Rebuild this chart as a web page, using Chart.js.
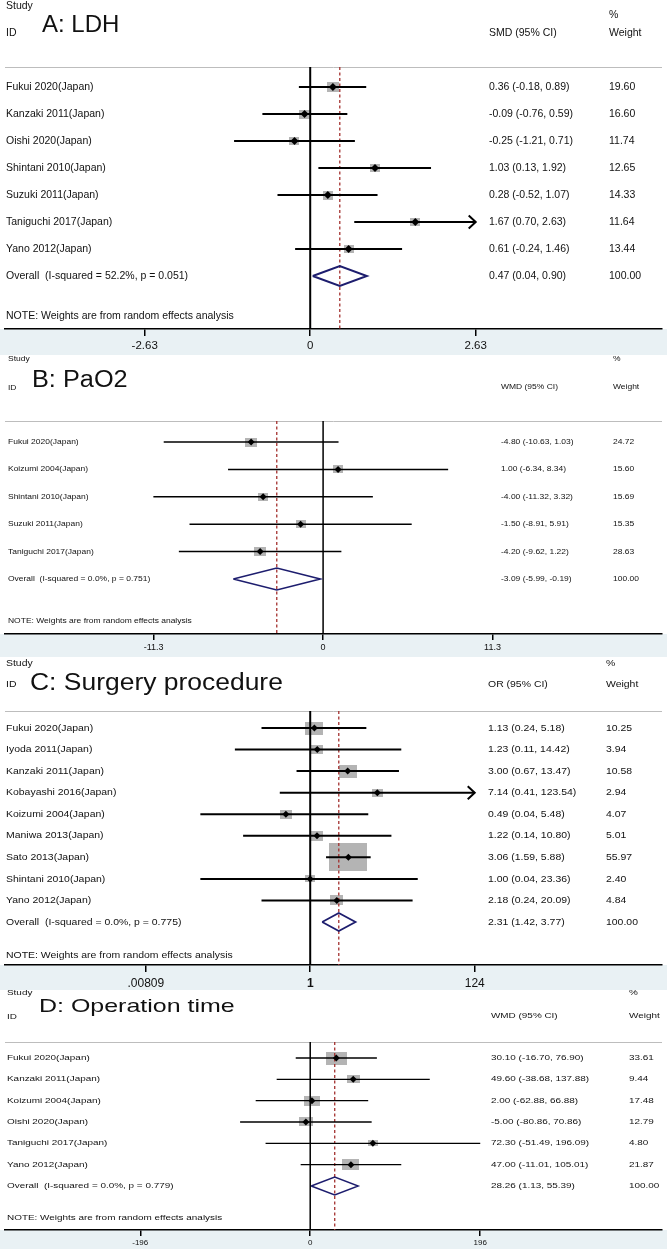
<!DOCTYPE html>
<html>
<head>
<meta charset="utf-8">
<script src="https://cdn.jsdelivr.net/npm/chart.js@4.4.0/dist/chart.umd.min.js"></script>
<style>
  body { margin: 0; background: #fff; }
  #wrap { position: relative; width: 667px; height: 1249px; }
  #wrap canvas { position: absolute; left: 0; }
</style>
</head>
<body>
<div id="wrap">
  <canvas id="ldh" width="667" height="355" style="top:0"></canvas>
  <canvas id="pao2" width="667" height="302" style="top:355px"></canvas>
  <canvas id="surgery" width="667" height="333" style="top:657px"></canvas>
  <canvas id="optime" width="667" height="259" style="top:990px"></canvas>
</div>
<script>
const FONT = '"Liberation Sans", Arial, Helvetica, sans-serif';

// A: LDH (SMD)
const ldhStudies = ['Fukui 2020(Japan)', 'Kanzaki 2011(Japan)', 'Oishi 2020(Japan)', 'Shintani 2010(Japan)',
  'Suzuki 2011(Japan)', 'Taniguchi 2017(Japan)', 'Yano 2012(Japan)'];
const ldhEst = [0.36, -0.09, -0.25, 1.03, 0.28, 1.67, 0.61];
const ldhLow = [-0.18, -0.76, -1.21, 0.13, -0.52, 0.70, -0.24];
const ldhHigh = [0.89, 0.59, 0.71, 1.92, 1.07, 2.63, 1.46];
const ldhWeight = [19.60, 16.60, 11.74, 12.65, 14.33, 11.64, 13.44];
const ldhOverall = [0.47, 0.04, 0.90];
const ldhHet = ['52.2%', '0.051'];
const ldhTicks = [-2.63, 0, 2.63];
const ldhTickLabels = ['-2.63', '0', '2.63'];

// B: PaO2 (WMD)
const paoStudies = ['Fukui 2020(Japan)', 'Koizumi 2004(Japan)', 'Shintani 2010(Japan)', 'Suzuki 2011(Japan)',
  'Taniguchi 2017(Japan)'];
const paoEst = [-4.80, 1.00, -4.00, -1.50, -4.20];
const paoLow = [-10.63, -6.34, -11.32, -8.91, -9.62];
const paoHigh = [1.03, 8.34, 3.32, 5.91, 1.22];
const paoWeight = [24.72, 15.60, 15.69, 15.35, 28.63];
const paoOverall = [-3.09, -5.99, -0.19];
const paoHet = ['0.0%', '0.751'];
const paoTicks = [-11.3, 0, 11.3];
const paoTickLabels = ['-11.3', '0', '11.3'];

// C: Surgery procedure (OR)
const surgStudies = ['Fukui 2020(Japan)', 'Iyoda 2011(Japan)', 'Kanzaki 2011(Japan)', 'Kobayashi 2016(Japan)',
  'Koizumi 2004(Japan)', 'Maniwa 2013(Japan)', 'Sato 2013(Japan)', 'Shintani 2010(Japan)', 'Yano 2012(Japan)'];
const surgEst = [1.13, 1.23, 3.00, 7.14, 0.49, 1.22, 3.06, 1.00, 2.18];
const surgLow = [0.24, 0.11, 0.67, 0.41, 0.04, 0.14, 1.59, 0.04, 0.24];
const surgHigh = [5.18, 14.42, 13.47, 123.54, 5.48, 10.80, 5.88, 23.36, 20.09];
const surgWeight = [10.25, 3.94, 10.58, 2.94, 4.07, 5.01, 55.97, 2.40, 4.84];
const surgOverall = [2.31, 1.42, 3.77];
const surgHet = ['0.0%', '0.775'];
const surgTicks = [0.00809, 1, 124];
const surgTickLabels = ['.00809', '1', '124'];

// D: Operation time (WMD)
const opStudies = ['Fukui 2020(Japan)', 'Kanzaki 2011(Japan)', 'Koizumi 2004(Japan)', 'Oishi 2020(Japan)',
  'Taniguchi 2017(Japan)', 'Yano 2012(Japan)'];
const opEst = [30.10, 49.60, 2.00, -5.00, 72.30, 47.00];
const opLow = [-16.70, -38.68, -62.88, -80.86, -51.49, -11.01];
const opHigh = [76.90, 137.88, 66.88, 70.86, 196.09, 105.01];
const opWeight = [33.61, 9.44, 17.48, 12.79, 4.80, 21.87];
const opOverall = [28.26, 1.13, 55.39];
const opHet = ['0.0%', '0.779'];
const opTicks = [-196, 0, 196];
const opTickLabels = ['-196', '0', '196'];

const NOTE = 'NOTE: Weights are from random effects analysis';

const panels = [
  { id: 'ldh', title: 'A: LDH', measure: 'SMD (95% CI)',
    studies: ldhStudies, est: ldhEst, low: ldhLow, high: ldhHigh, weight: ldhWeight,
    overall: ldhOverall, het: ldhHet, ticks: ldhTicks, tickLabels: ldhTickLabels,
    log: false, nullValue: 0, clip: 2.63,
    h: 355, top: 67, axis: 329, row0: 87, rowGap: 27, zeroX: 310, ppu: 63.5,
    studyY: 6, idY: 33, titleX: 42, titleY: 25, titleSize: 24, titleStretch: 1.0,
    pctY: 15, hdrY: 33, ciX: 489, wX: 609, labelX: 6, noteY: 316,
    font: 10.5, stretch: 1.0, tickFont: 11.5, tickLen: 7, tickPad: 3,
    boxBase: 3, boxScale: 1.5, boxStretch: 1.2, dot: 4, ciW: 2, nullW: 2, diaW: 2, diaH: 0.37 },
  { id: 'pao2', title: 'B: PaO2', measure: 'WMD (95% CI)',
    studies: paoStudies, est: paoEst, low: paoLow, high: paoHigh, weight: paoWeight,
    overall: paoOverall, het: paoHet, ticks: paoTicks, tickLabels: paoTickLabels,
    log: false, nullValue: 0, clip: null,
    h: 302, top: 66, axis: 279, row0: 87, rowGap: 27.4, zeroX: 323, ppu: 15.13,
    studyY: 4, idY: 33, titleX: 32, titleY: 26, titleSize: 23, titleStretch: 1.1,
    pctY: 4, hdrY: 32, ciX: 501, wX: 613, labelX: 8, noteY: 266,
    font: 7.5, stretch: 1.13, tickFont: 9, tickLen: 6, tickPad: 2,
    boxBase: 2.5, boxScale: 1.3, boxStretch: 1.3, dot: 3.5, ciW: 1.5, nullW: 1.5, diaW: 1.6, diaH: 0.4 },
  { id: 'surgery', title: 'C: Surgery procedure', measure: 'OR (95% CI)',
    studies: surgStudies, est: surgEst, low: surgLow, high: surgHigh, weight: surgWeight,
    overall: surgOverall, het: surgHet, ticks: surgTicks, tickLabels: surgTickLabels,
    log: true, nullValue: 1, clip: 124,
    h: 333, top: 54, axis: 308, row0: 71, rowGap: 21.56, zeroX: 310, ppu: 79.3,
    studyY: 6, idY: 27, titleX: 30, titleY: 26.5, titleSize: 23, titleStretch: 1.15,
    pctY: 6, hdrY: 27, ciX: 488, wX: 606, labelX: 6, noteY: 298,
    font: 9.5, stretch: 1.1, tickFont: 12, tickLen: 7, tickPad: 4,
    boxBase: 2, boxScale: 3.5, boxStretch: 1.35, dot: 3.5, ciW: 2, nullW: 2, diaW: 1.8, diaH: 0.42 },
  { id: 'optime', title: 'D: Operation time', measure: 'WMD (95% CI)',
    studies: opStudies, est: opEst, low: opLow, high: opHigh, weight: opWeight,
    overall: opOverall, het: opHet, ticks: opTicks, tickLabels: opTickLabels,
    log: false, nullValue: 0, clip: null,
    h: 259, top: 52, axis: 240, row0: 68, rowGap: 21.33, zeroX: 310, ppu: 0.875,
    studyY: 3, idY: 27, titleX: 39, titleY: 17, titleSize: 18.5, titleStretch: 1.35,
    pctY: 3, hdrY: 26, ciX: 491, wX: 629, labelX: 7, noteY: 228,
    font: 7.2, stretch: 1.38, tickFont: 8, tickLen: 6, tickPad: 2,
    boxBase: 2, boxScale: 1.9, boxStretch: 1.6, dot: 3.5, ciW: 1.3, nullW: 1.5, diaW: 1.4, diaH: 0.42 }
];

const AREA_L = 2, AREA_R = 665;

function fmt(v) { return v.toFixed(2); }

function text(ctx, str, x, y, size, stretch, bold) {
  ctx.save();
  ctx.translate(x, y);
  ctx.scale(stretch, 1);
  ctx.font = (bold ? 'bold ' : '') + size + 'px ' + FONT;
  ctx.fillStyle = '#111';
  ctx.textAlign = 'left';
  ctx.textBaseline = 'middle';
  ctx.fillText(str, 0, 0);
  ctx.restore();
}

function boxImage(p, w) {
  const hgt = p.boxBase + p.boxScale * Math.sqrt(w);
  const c = document.createElement('canvas');
  c.width = Math.max(2, Math.round(hgt * p.boxStretch));
  c.height = Math.max(2, Math.round(hgt));
  const g = c.getContext('2d');
  g.fillStyle = '#b4b4b4';
  g.fillRect(0, 0, c.width, c.height);
  return c;
}

function isClipped(p, hi) { return p.clip !== null && hi >= p.clip * 0.99; }

function makeChart(p) {
  const n = p.studies.length;
  const yMin = (p.top - p.row0) / p.rowGap;
  const yMax = (p.axis - p.row0) / p.rowGap;
  let xMin, xMax;
  if (p.log) {
    xMin = Math.pow(10, (AREA_L - p.zeroX) / p.ppu);
    xMax = Math.pow(10, (AREA_R - p.zeroX) / p.ppu);
  } else {
    xMin = p.nullValue + (AREA_L - p.zeroX) / p.ppu;
    xMax = p.nullValue + (AREA_R - p.zeroX) / p.ppu;
  }

  const datasets = [];
  datasets.push({
    data: p.est.map((v, i) => ({ x: v, y: i })),
    pointStyle: p.weight.map(w => boxImage(p, w)),
    pointRadius: 3, order: 6
  });
  datasets.push({
    data: [{ x: p.nullValue, y: yMin }, { x: p.nullValue, y: yMax }],
    showLine: true, borderColor: '#000', borderWidth: p.nullW, pointRadius: 0, order: 5
  });
  datasets.push({
    data: [{ x: p.overall[0], y: yMin }, { x: p.overall[0], y: yMax }],
    showLine: true, borderColor: '#a3302e', borderWidth: 1.3, borderDash: [3, 2.5], pointRadius: 0, order: 4
  });
  p.low.forEach((lo, i) => {
    const hi = isClipped(p, p.high[i]) ? p.clip : p.high[i];
    datasets.push({
      data: [{ x: lo, y: i }, { x: hi, y: i }],
      showLine: true, borderColor: '#000', borderWidth: p.ciW, pointRadius: 0, order: 3
    });
  });
  const [oe, ol, oh] = p.overall;
  datasets.push({
    data: [{ x: ol, y: n }, { x: oe, y: n - p.diaH }, { x: oh, y: n }, { x: oe, y: n + p.diaH }, { x: ol, y: n }],
    showLine: true, borderColor: '#1d1d6e', borderWidth: p.diaW, borderJoinStyle: 'miter',
    pointRadius: 0, order: 2
  });
  datasets.push({
    data: p.est.map((v, i) => ({ x: v, y: i })),
    pointStyle: 'rectRot', pointRadius: p.dot, backgroundColor: '#000', borderWidth: 0, order: 1
  });

  const decor = {
    id: 'forestDecor',
    beforeDraw(chart) {
      const { ctx, chartArea } = chart;
      ctx.save();
      ctx.fillStyle = '#e9f1f4';
      ctx.fillRect(0, chartArea.bottom, chart.width, chart.height - chartArea.bottom);
      ctx.strokeStyle = '#bdbdbd';
      ctx.lineWidth = 1;
      ctx.beginPath();
      ctx.moveTo(chartArea.left, chartArea.top + 0.5);
      ctx.lineTo(chartArea.right, chartArea.top + 0.5);
      ctx.stroke();
      ctx.restore();
    },
    afterDatasetsDraw(chart) {
      const { ctx } = chart;
      const xs = chart.scales.x, ys = chart.scales.y;
      ctx.save();
      ctx.strokeStyle = '#000';
      ctx.lineWidth = p.ciW;
      p.high.forEach((hi, i) => {
        if (!isClipped(p, hi)) return;
        const px = xs.getPixelForValue(p.clip), py = ys.getPixelForValue(i);
        ctx.beginPath();
        ctx.moveTo(px - 7, py - 6.5);
        ctx.lineTo(px, py);
        ctx.lineTo(px - 7, py + 6.5);
        ctx.stroke();
      });
      ctx.restore();
    },
    afterDraw(chart) {
      const { ctx } = chart;
      const ys = chart.scales.y;
      text(ctx, 'Study', p.labelX, p.studyY, p.font, p.stretch);
      text(ctx, 'ID', p.labelX, p.idY, p.font, p.stretch);
      text(ctx, p.title, p.titleX, p.titleY, p.titleSize, p.titleStretch);
      text(ctx, '%', p.wX, p.pctY, p.font, p.stretch);
      text(ctx, p.measure, p.ciX, p.hdrY, p.font, p.stretch);
      text(ctx, 'Weight', p.wX, p.hdrY, p.font, p.stretch);
      p.studies.forEach((s, i) => {
        const py = ys.getPixelForValue(i);
        text(ctx, s, p.labelX, py, p.font, p.stretch);
        text(ctx, fmt(p.est[i]) + ' (' + fmt(p.low[i]) + ', ' + fmt(p.high[i]) + ')', p.ciX, py, p.font, p.stretch);
        text(ctx, fmt(p.weight[i]), p.wX, py, p.font, p.stretch);
      });
      const oy = ys.getPixelForValue(n);
      text(ctx, 'Overall  (I-squared = ' + p.het[0] + ', p = ' + p.het[1] + ')', p.labelX, oy, p.font, p.stretch);
      text(ctx, fmt(oe) + ' (' + fmt(ol) + ', ' + fmt(oh) + ')', p.ciX, oy, p.font, p.stretch);
      text(ctx, '100.00', p.wX, oy, p.font, p.stretch);
      text(ctx, NOTE, p.labelX, p.noteY, p.font, p.stretch);
    }
  };

  return new Chart(document.getElementById(p.id), {
    type: 'scatter',
    data: { datasets },
    options: {
      responsive: false,
      animation: false,
      events: [],
      layout: { padding: { top: p.top, left: AREA_L, right: 667 - AREA_R, bottom: 0 } },
      plugins: { legend: { display: false }, tooltip: { enabled: false } },
      scales: {
        x: {
          type: p.log ? 'logarithmic' : 'linear',
          min: xMin, max: xMax, bounds: 'data',
          afterBuildTicks: s => { s.ticks = p.ticks.map(v => ({ value: v })); },
          afterFit: s => { s.height = p.h - p.axis; },
          border: { display: true, color: '#000', width: 1.5 },
          grid: { display: true, drawOnChartArea: false, drawTicks: true, tickLength: p.tickLen,
            tickColor: '#000', lineWidth: 1.5 },
          ticks: {
            autoSkip: false, maxRotation: 0, padding: p.tickPad, color: '#111',
            font: c => ({ family: FONT, size: p.tickFont,
              weight: (p.log && c.tick && c.tick.value === 1) ? 'bold' : 'normal' }),
            callback: (v, i) => p.tickLabels[i]
          }
        },
        y: { type: 'linear', display: false, reverse: true, min: yMin, max: yMax }
      }
    },
    plugins: [decor]
  });
}

panels.forEach(makeChart);
</script>
</body>
</html>
